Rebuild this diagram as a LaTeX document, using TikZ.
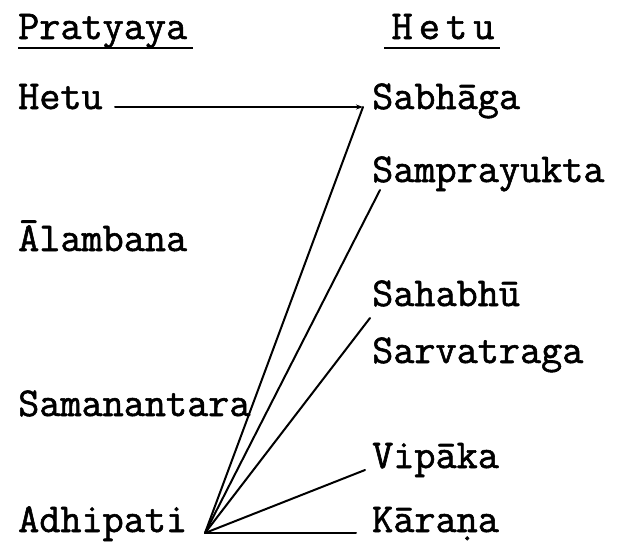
\documentclass[tikz,border=0pt]{standalone}
\usepackage{fontspec}
\setmonofont{Latin Modern Mono}[FakeBold=1.4]
\newfontfamily\headfont{Latin Modern Mono}[FakeBold=1.4,LetterSpace=15]
\usetikzlibrary{arrows.meta}
\begin{document}
\begin{tikzpicture}[x=1pt,y=-1pt,
  lbl/.style={anchor=base west,inner sep=0pt,font=\fontsize{41}{41}\selectfont\ttfamily},
  hdr/.style={anchor=base,inner sep=0pt,font=\fontsize{41}{41}\selectfont\headfont},
  conn/.style={line width=2pt,line cap=round},
  uline/.style={line width=2.4pt}]
\useasboundingbox (0,0) rectangle (631,546);
% headers
\node[lbl] (hpr) at (18,39) {Pratyaya};
\node[hdr] (hhe) at (443,39) {Hetu};
\draw[uline] (18,48) -- (193,48);
\draw[uline] (384,48) -- (500,48);
% left column
\node[lbl] (lhetu) at (18,109) {Hetu};
\node[lbl] (lalam) at (18,251) {\=Alambana};
\node[lbl] (lsama) at (18,416) {Samanantara};
\node[lbl] (ladhi) at (18,532) {Adhipati};
% right column
\node[lbl] (rsabh) at (372,109) {Sabh\=aga};
\node[lbl] (rsamp) at (372,182) {Samprayukta};
\node[lbl] (rsaha) at (372,306) {Sahabh\=u};
\node[lbl] (rsarv) at (372,363) {Sarvatraga};
\node[lbl] (rvipa) at (372,468) {Vip\=aka};
\node[lbl] (rkara) at (372,532) {K\=ara\d{n}a};
% connector points
\coordinate (apex) at (205,533);
\coordinate (c1) at (363,107);
\coordinate (c2) at (380,190);
\coordinate (c3) at (370,318);
\coordinate (c4) at (365,470);
\coordinate (c5) at (356,533);
\coordinate (hs) at (115,107);
\draw[conn,-{Stealth[length=7pt,width=5pt]}] (hs) -- (c1);
\draw[conn] (apex) -- (c1);
\draw[conn] (apex) -- (c2);
\draw[conn] (apex) -- (c3);
\draw[conn] (apex) -- (c4);
\draw[conn] (apex) -- (c5);
\end{tikzpicture}
\end{document}
